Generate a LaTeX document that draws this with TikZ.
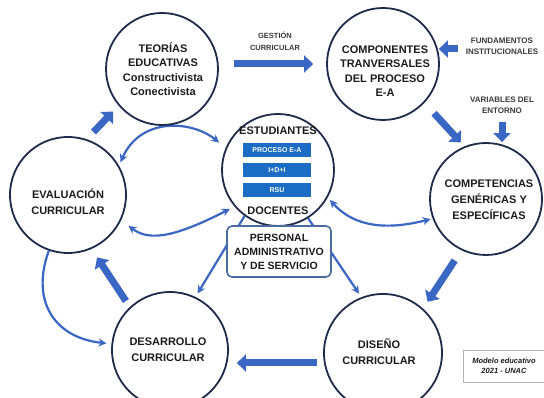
\documentclass[tikz,border=0pt]{standalone}
\usepackage{fontspec}
\setmainfont{Liberation Sans}
\usetikzlibrary{arrows.meta,backgrounds,calc}
\definecolor{navy}{HTML}{1E2B4A}
\definecolor{arrblue}{HTML}{3A67C4}
\definecolor{boxblue}{HTML}{1A6CC4}
\definecolor{persblue}{HTML}{4A6AA0}
\definecolor{txt}{HTML}{1C1C1C}
\definecolor{lbltxt}{HTML}{3A3A3A}
\begin{document}
\begin{tikzpicture}[x=1pt,y=1pt,
  >={Stealth[length=8pt,width=8pt]},
  circ/.style={circle, draw=navy, line width=1.8pt, fill=white, minimum size=#1, inner sep=0pt},
  circ/.default=112pt,
  ctext/.style={font=\fontsize{11}{14.5}\selectfont\bfseries, text=txt, align=center, inner sep=0pt},
  ctwo/.style={font=\fontsize{11}{16}\selectfont\bfseries, text=txt, align=center, inner sep=0pt},
  big/.style={draw=arrblue, line width=7pt, -{Triangle[length=9pt,width=17pt]}},
  curv/.style={draw=arrblue, line width=2.2pt},
  lbl/.style={font=\fontsize{8}{11}\selectfont\bfseries, text=lbltxt, align=center, inner sep=0pt},
  bbox/.style={fill=boxblue, minimum width=68pt, minimum height=14pt, inner sep=0pt, text=white, font=\fontsize{7}{8}\selectfont\bfseries},
]
\useasboundingbox (0,0) rectangle (544,398);

% circles
\node[circ] (teo) at (162,329) {};
\node[circ] (comp) at (383,334) {};
\node[circ=116pt] (eval) at (68,203) {};
\node[circ] (estu) at (278,228) {};
\node[circ] (compet) at (486,199) {};
\node[circ=116pt] (desa) at (170,48) {};
\node[circ=118pt] (dise) at (383,45) {};

% circle texts
\node[ctext] (teoT) at (163,329) {TEORÍAS\\EDUCATIVAS\\Constructivista\\Conectivista};
\node[ctext] (compT) at (385,327) {COMPONENTES\\TRANVERSALES\\DEL PROCESO\\E-A};
\node[ctwo] (evalT) at (68,196) {EVALUACIÓN\\CURRICULAR};
\node[ctwo] (competT) at (489,198) {COMPETENCIAS\\GENÉRICAS Y\\ESPECÍFICAS};
\node[ctwo] (desaT) at (168,48) {DESARROLLO\\CURRICULAR};
\node[ctwo] (diseT) at (379,46.5) {DISEÑO\\CURRICULAR};

% centre circle contents
\node[ctext] (estT) at (278,267) {ESTUDIANTES};
\node[bbox] (b1) at (277,247.5) {PROCESO E-A};
\node[bbox] (b2) at (277,227.5) {I+D+I};
\node[bbox] (b3) at (277,207.5) {RSU};
\node[ctext] (docT) at (278,187) {DOCENTES};

\node[draw=persblue, line width=1.6pt, rounded corners=5pt, fill=white,
  minimum width=104pt, minimum height=51pt, inner sep=0pt, align=center,
  font=\fontsize{10.5}{14}\selectfont\bfseries, text=txt] (pers) at (279,146.5)
  {PERSONAL\\ADMINISTRATIVO\\Y DE SERVICIO};

% labels
\node[lbl, font=\fontsize{7.5}{12}\selectfont\bfseries] (gest) at (275,357) {GESTIÓN\\CURRICULAR};
\node[lbl] (fund) at (502,352) {FUNDAMENTOS\\INSTITUCIONALES};
\node[lbl] (var) at (502,293) {VARIABLES DEL\\ENTORNO};

\node[draw=gray!60, line width=0.6pt, minimum width=95pt, minimum height=32pt, anchor=west, inner sep=0pt] (modbox) at (463,32) {};
\node[font=\fontsize{7.5}{10}\selectfont\bfseries\itshape, align=center, text=txt, inner sep=0pt] (modT) at (504,32) {Modelo educativo\\2021 - UNAC};

\begin{scope}[on background layer]
\fill[white] (0,0) rectangle (544,398);
% block arrows
\draw[big] ($(teo.east |- comp.west)+(15,0)$) -- ($(comp.west)+(-13,0)$);
\draw[big] ($(fund.west)+(-8,-3)$) -- ($(fund.west -| comp.east)+(-1,-3)$);
\draw[big] ([shift={(-44:14pt)}]comp.-44) -- ([shift={(114:5pt)}]compet.114);
\draw[big] ($(var.south)+(0,-8)$) -- ($(var.south |- compet.north)+(0,0)$);
\draw[big] ([shift={(243:12pt)}]compet.243) -- ([shift={(49:8pt)}]dise.49);
\draw[big] ($(dise.west)+(-6,-10)$) -- ($(dise.west -| desa.east)+(8,-10)$);
\draw[big] ([shift={(132:7pt)}]desa.132) -- ([shift={(-65:10pt)}]eval.-65);
\draw[big] ([shift={(68:9pt)}]eval.68) -- ([shift={(221:8pt)}]teo.221);
% thin connectors
\draw[curv,<->] ([shift={(32:3pt)}]eval.32) to[out=66, in=141, out distance=50pt, in distance=35pt] ([shift={(155:8pt)}]estu.155);
\draw[curv,<->] ([shift={(-27:9pt)}]eval.-27) to[out=-37, in=207, out distance=27pt, in distance=60pt] ([shift={(219:5pt)}]estu.219);
\draw[curv,<->] ([shift={(-30:3pt)}]estu.-30) to[out=-48, in=194, out distance=44pt, in distance=32pt] ([shift={(200:2pt)}]compet.200);
\draw[curv,->] (estu.234) -- ([shift={(64:4pt)}]desa.64);
\draw[curv,->] (estu.-58) -- ([shift={(112:4pt)}]dise.112);
\draw[curv,->] (eval.251) to[out=250, in=174, out distance=55pt, in distance=51pt] ([shift={(174:5pt)}]desa.174);
\end{scope}
\end{tikzpicture}
\end{document}
